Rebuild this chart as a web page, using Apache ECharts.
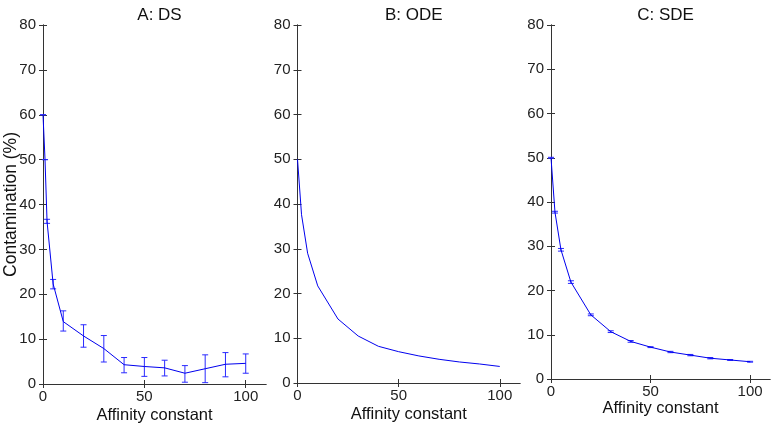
<!DOCTYPE html>
<html>
<head>
<meta charset="utf-8">
<script src="https://cdn.jsdelivr.net/npm/echarts@6/dist/echarts.min.js"></script>
<style>html,body{margin:0;padding:0;background:#fff}#c{width:772px;height:426px}</style>
</head>
<body>
<div id="c"></div>
<script>
// ---- data ----
const panelTitles = ['A: DS', 'B: ODE', 'C: SDE'];
const xTickValues = [0, 50, 100];
const yTickValues = [0, 10, 20, 30, 40, 50, 60, 70, 80];

const dsX    = [0, 1, 2, 5, 10, 20, 30, 40, 50, 60, 70, 80, 90, 100];
const dsMean = [60, 50, 36.2, 22.3, 13.9, 10.7, 7.9, 4.3, 3.9, 3.6, 2.4, 3.4, 4.4, 4.6];
const dsLow  = [60, 50, 35.8, 21.2, 11.8, 8.2, 4.9, 2.5, 1.7, 1.8, 0.4, 0.3, 1.6, 2.4];
const dsHigh = [60, 50, 36.7, 23.3, 16.3, 13.2, 10.8, 5.9, 5.9, 5.3, 4.1, 6.5, 7.0, 6.7];

const odeX = [0, 2, 5, 10, 20, 30, 40, 50, 60, 70, 80, 90, 100];
const odeY = [50, 37.6, 29.0, 21.7, 14.3, 10.5, 8.2, 7.0, 6.05, 5.3, 4.7, 4.25, 3.7];

const sdeX    = [0, 2, 5, 10, 20, 30, 40, 50, 60, 70, 80, 90, 100];
const sdeMean = [50, 37.7, 29.2, 21.9, 14.5, 10.7, 8.5, 7.2, 6.1, 5.4, 4.7, 4.3, 3.9];
const sdeLow  = [49.9, 37.5, 28.9, 21.6, 14.3, 10.5, 8.3, 7.1, 5.95, 5.25, 4.55, 4.2, 3.8];
const sdeHigh = [50.1, 37.9, 29.5, 22.2, 14.7, 10.9, 8.7, 7.3, 6.25, 5.55, 4.85, 4.4, 4.0];

// ---- chart ----
const FONT = 'Liberation Sans, Arial, Helvetica, sans-serif';
const AX = '#333';
const BLUE = '#0000ee';
const EBLUE = '#2a2aff';

const grids = [
  {left: 43, top: 25, width: 223, height: 359, outerBoundsMode: 'none', containLabel: false},
  {left: 297.5, top: 25, width: 222.5, height: 358, outerBoundsMode: 'none', containLabel: false},
  {left: 551, top: 25, width: 219, height: 354, outerBoundsMode: 'none', containLabel: false}
];
const xNameGaps = [23, 23, 21];

const xAxes = [], yAxes = [];
grids.forEach((g, i) => {
  xAxes.push({
    type: 'value', gridIndex: i, min: 0, max: 110, position: 'bottom',
    name: 'Affinity constant', nameLocation: 'middle', nameGap: xNameGaps[i],
    nameMoveOverlap: false,
    nameTextStyle: {fontFamily: FONT, fontSize: 16.5, color: '#111'},
    axisLine: {show: true, lineStyle: {color: AX, width: 1}},
    axisTick: {show: true, inside: true, length: 4, customValues: xTickValues, lineStyle: {color: AX}},
    axisLabel: {show: true, customValues: xTickValues, fontFamily: FONT, fontSize: 15, color: '#222', margin: 5},
    splitLine: {show: false}
  });
  xAxes.push({
    type: 'value', gridIndex: i, min: 0, max: 110, position: 'top',
    axisLine: {show: true, lineStyle: {color: AX, width: 1}},
    axisTick: {show: true, inside: true, length: 4, customValues: xTickValues, lineStyle: {color: AX}},
    axisLabel: {show: false}, splitLine: {show: false}
  });
  yAxes.push({
    type: 'value', gridIndex: i, min: 0, max: 80, interval: 10, position: 'left',
    name: i === 0 ? 'Contamination (%)' : '', nameLocation: 'middle', nameGap: 23,
    nameMoveOverlap: false,
    nameTextStyle: {fontFamily: FONT, fontSize: 17.5, color: '#111'},
    axisLine: {show: true, lineStyle: {color: AX, width: 1}},
    axisTick: {show: true, inside: true, length: 4, lineStyle: {color: AX}},
    axisLabel: {show: true, fontFamily: FONT, fontSize: 15, color: '#222', margin: 7},
    splitLine: {show: false}
  });
  yAxes.push({
    type: 'value', gridIndex: i, min: 0, max: 80, interval: 10, position: 'right',
    axisLine: {show: true, lineStyle: {color: AX, width: 1}},
    axisTick: {show: true, inside: true, length: 4, lineStyle: {color: AX}},
    axisLabel: {show: false}, splitLine: {show: false}
  });
});

function errItem(params, api) {
  const x = api.value(0), lo = api.value(1), hi = api.value(2);
  const pL = api.coord([x, lo]), pH = api.coord([x, hi]);
  const w = 3;
  const st = {stroke: EBLUE, lineWidth: 1};
  return {
    type: 'group',
    children: [
      {type: 'line', shape: {x1: pL[0], y1: pL[1], x2: pH[0], y2: pH[1]}, style: st},
      {type: 'line', shape: {x1: pL[0] - w, y1: pL[1], x2: pL[0] + w, y2: pL[1]}, style: st},
      {type: 'line', shape: {x1: pH[0] - w, y1: pH[1], x2: pH[0] + w, y2: pH[1]}, style: st}
    ]
  };
}

const zip2 = (a, b) => a.map((v, i) => [v, b[i]]);
const zip3 = (a, b, c) => a.map((v, i) => [v, b[i], c[i]]);

const series = [
  {type: 'line', xAxisIndex: 0, yAxisIndex: 0, data: zip2(dsX, dsMean), showSymbol: false,
   lineStyle: {color: BLUE, width: 1}, animation: false},
  {type: 'custom', xAxisIndex: 0, yAxisIndex: 0, data: zip3(dsX, dsLow, dsHigh), renderItem: errItem,
   encode: {x: 0, y: [1, 2]}, animation: false},
  {type: 'line', xAxisIndex: 2, yAxisIndex: 2, data: zip2(odeX, odeY), showSymbol: false,
   lineStyle: {color: BLUE, width: 1}, animation: false},
  {type: 'line', xAxisIndex: 4, yAxisIndex: 4, data: zip2(sdeX, sdeMean), showSymbol: false,
   lineStyle: {color: BLUE, width: 1}, animation: false},
  {type: 'custom', xAxisIndex: 4, yAxisIndex: 4, data: zip3(sdeX, sdeLow, sdeHigh), renderItem: errItem,
   encode: {x: 0, y: [1, 2]}, animation: false}
];

const titles = grids.map((g, i) => ({
  text: panelTitles[i], left: g.left + g.width / 2, top: 2, textAlign: 'center',
  textStyle: {fontFamily: FONT, fontSize: 17, fontWeight: 'normal', color: '#111'}
}));

const chart = echarts.init(document.getElementById('c'), null, {renderer: 'canvas'});
chart.setOption({
  backgroundColor: '#fff',
  animation: false,
  title: titles,
  grid: grids,
  xAxis: xAxes,
  yAxis: yAxes,
  series: series
});
</script>
</body>
</html>
